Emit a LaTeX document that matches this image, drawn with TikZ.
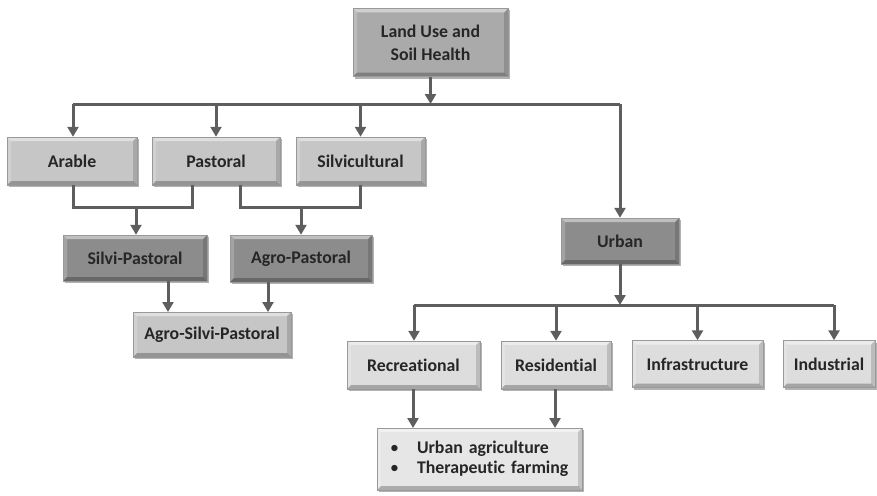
\documentclass[tikz,border=0pt]{standalone}
\usepackage{fontspec}
\setmainfont[Ligatures={NoCommon}]{Carlito}
\usetikzlibrary{arrows.meta,shadows}
\definecolor{txt}{HTML}{262626}
\definecolor{lc}{HTML}{5E5E5E}
\definecolor{ctop}{HTML}{AAAAAA}
\definecolor{cmid}{HTML}{C6C6C6}
\definecolor{cdark}{HTML}{8C8C8C}
\definecolor{clight}{HTML}{DDDDDD}
\definecolor{cbot}{HTML}{E6E6E6}
\tikzset{
  box/.style={draw=black!40, line width=0.5pt, text=txt, align=center,
    font=\bfseries\fontsize{17.8}{23}\selectfont, inner sep=0pt,
    drop shadow={shadow xshift=1.5pt, shadow yshift=-2pt, opacity=0.3, fill=black},
    path picture={
      \fill[white,opacity=0.45] (path picture bounding box.north west) -- (path picture bounding box.north east)
        -- ([shift={(-4pt,-4pt)}]path picture bounding box.north east) -- ([shift={(4pt,-4pt)}]path picture bounding box.north west) -- cycle;
      \fill[white,opacity=0.2] (path picture bounding box.north west) -- (path picture bounding box.south west)
        -- ([shift={(4pt,4pt)}]path picture bounding box.south west) -- ([shift={(4pt,-4pt)}]path picture bounding box.north west) -- cycle;
      \fill[black,opacity=0.25] (path picture bounding box.south west) -- (path picture bounding box.south east)
        -- ([shift={(-4pt,4pt)}]path picture bounding box.south east) -- ([shift={(4pt,4pt)}]path picture bounding box.south west) -- cycle;
      \fill[black,opacity=0.15] (path picture bounding box.north east) -- (path picture bounding box.south east)
        -- ([shift={(-4pt,4pt)}]path picture bounding box.south east) -- ([shift={(-4pt,-4pt)}]path picture bounding box.north east) -- cycle;
    }},
  conn/.style={draw=lc, line width=3pt},
  arr/.style={conn, -{Triangle[width=11pt,length=10pt]}}
}
\begin{document}
\begin{tikzpicture}[x=1pt,y=-1pt]
\useasboundingbox (0,0) rectangle (877,495);
% nodes
\node[box, fill=ctop, minimum width=155pt, minimum height=68pt] (top) at (430.5,42.5) {Land Use and\\Soil Health};
\node[box, fill=cmid, minimum width=130pt, minimum height=48pt] (arable) at (72,161) {Arable};
\node[box, fill=cmid, minimum width=128pt, minimum height=48pt] (past) at (216,161) {Pastoral};
\node[box, fill=cmid, minimum width=129pt, minimum height=48pt] (silv) at (360.5,161) {Silvicultural};
\node[box, fill=cdark, minimum width=118pt, minimum height=46pt] (urban) at (620,241) {Urban};
\node[box, fill=cdark, minimum width=144pt, minimum height=46pt] (sp) at (135,258) {Silvi-Pastoral};
\node[box, fill=cdark, minimum width=142pt, minimum height=47pt] (ap) at (301,258.5) {Agro-Pastoral};
\node[box, fill=cmid, minimum width=158pt, minimum height=45pt] (asp) at (212,334.5) {Agro-Silvi-Pastoral};
\node[box, fill=clight, minimum width=133pt, minimum height=48pt] (rec) at (413.5,365) {Recreational};
\node[box, fill=clight, minimum width=110pt, minimum height=48pt] (res) at (556,365) {Residential};
\node[box, fill=clight, minimum width=131pt, minimum height=47pt] (inf) at (697.5,364) {Infrastructure};
\node[box, fill=clight, minimum width=92pt, minimum height=47pt] (ind) at (829,364) {Industrial};
\node[box, fill=cbot, minimum width=205pt, minimum height=62pt, text width=191pt, inner xsep=7pt, align=left,
  font=\bfseries\fontsize{17.8}{19.5}\selectfont] (ua) at (479.5,459)
  {\mbox{\hspace{6pt}\makebox[27pt][l]{\normalfont\textbullet}Urban agriculture}\\\mbox{\hspace{6pt}\makebox[27pt][l]{\normalfont\textbullet}Therapeutic farming}};
% junction coordinates
\coordinate (h1) at (73,104);
\coordinate (h2) at (620,104);
\coordinate (hc) at (430.5,104);
\coordinate (j1) at (136,207);
\coordinate (j2) at (301,207);
\coordinate (u1) at (414,305);
\coordinate (u2) at (834,305);
\coordinate (uc) at (620,305);
% connectors
\draw[conn] (h1) -- (h2);
\draw[arr] (top.south) -- (hc);
\draw[arr] (h1) -- (h1 |- arable.north);
\draw[arr] (past.north |- h1) -- (past.north);
\draw[arr] (silv.north |- h1) -- (silv.north);
\draw[arr] (h2) -- (urban.north);
\draw[conn] (73,185) -- (73,207) -- (192,207) -- (192,185);
\draw[arr] (j1) -- (j1 |- sp.north);
\draw[conn] (240,185) -- (240,207) -- (360,207) -- (360,185);
\draw[arr] (j2) -- (j2 |- ap.north);
\draw[arr] (168,281) -- (168,312);
\draw[arr] (268,282) -- (268,312);
\draw[arr] (urban.south) -- (uc);
\draw[conn] (u1) -- (u2);
\draw[arr] (u1) -- (u1 |- rec.north);
\draw[arr] (res.north |- u1) -- (res.north);
\draw[arr] (inf.north |- u1) -- (inf.north);
\draw[arr] (u2) -- (u2 |- ind.north);
\draw[arr] (413,389) -- (413,428);
\draw[arr] (555,389) -- (555,428);
\end{tikzpicture}
\end{document}
